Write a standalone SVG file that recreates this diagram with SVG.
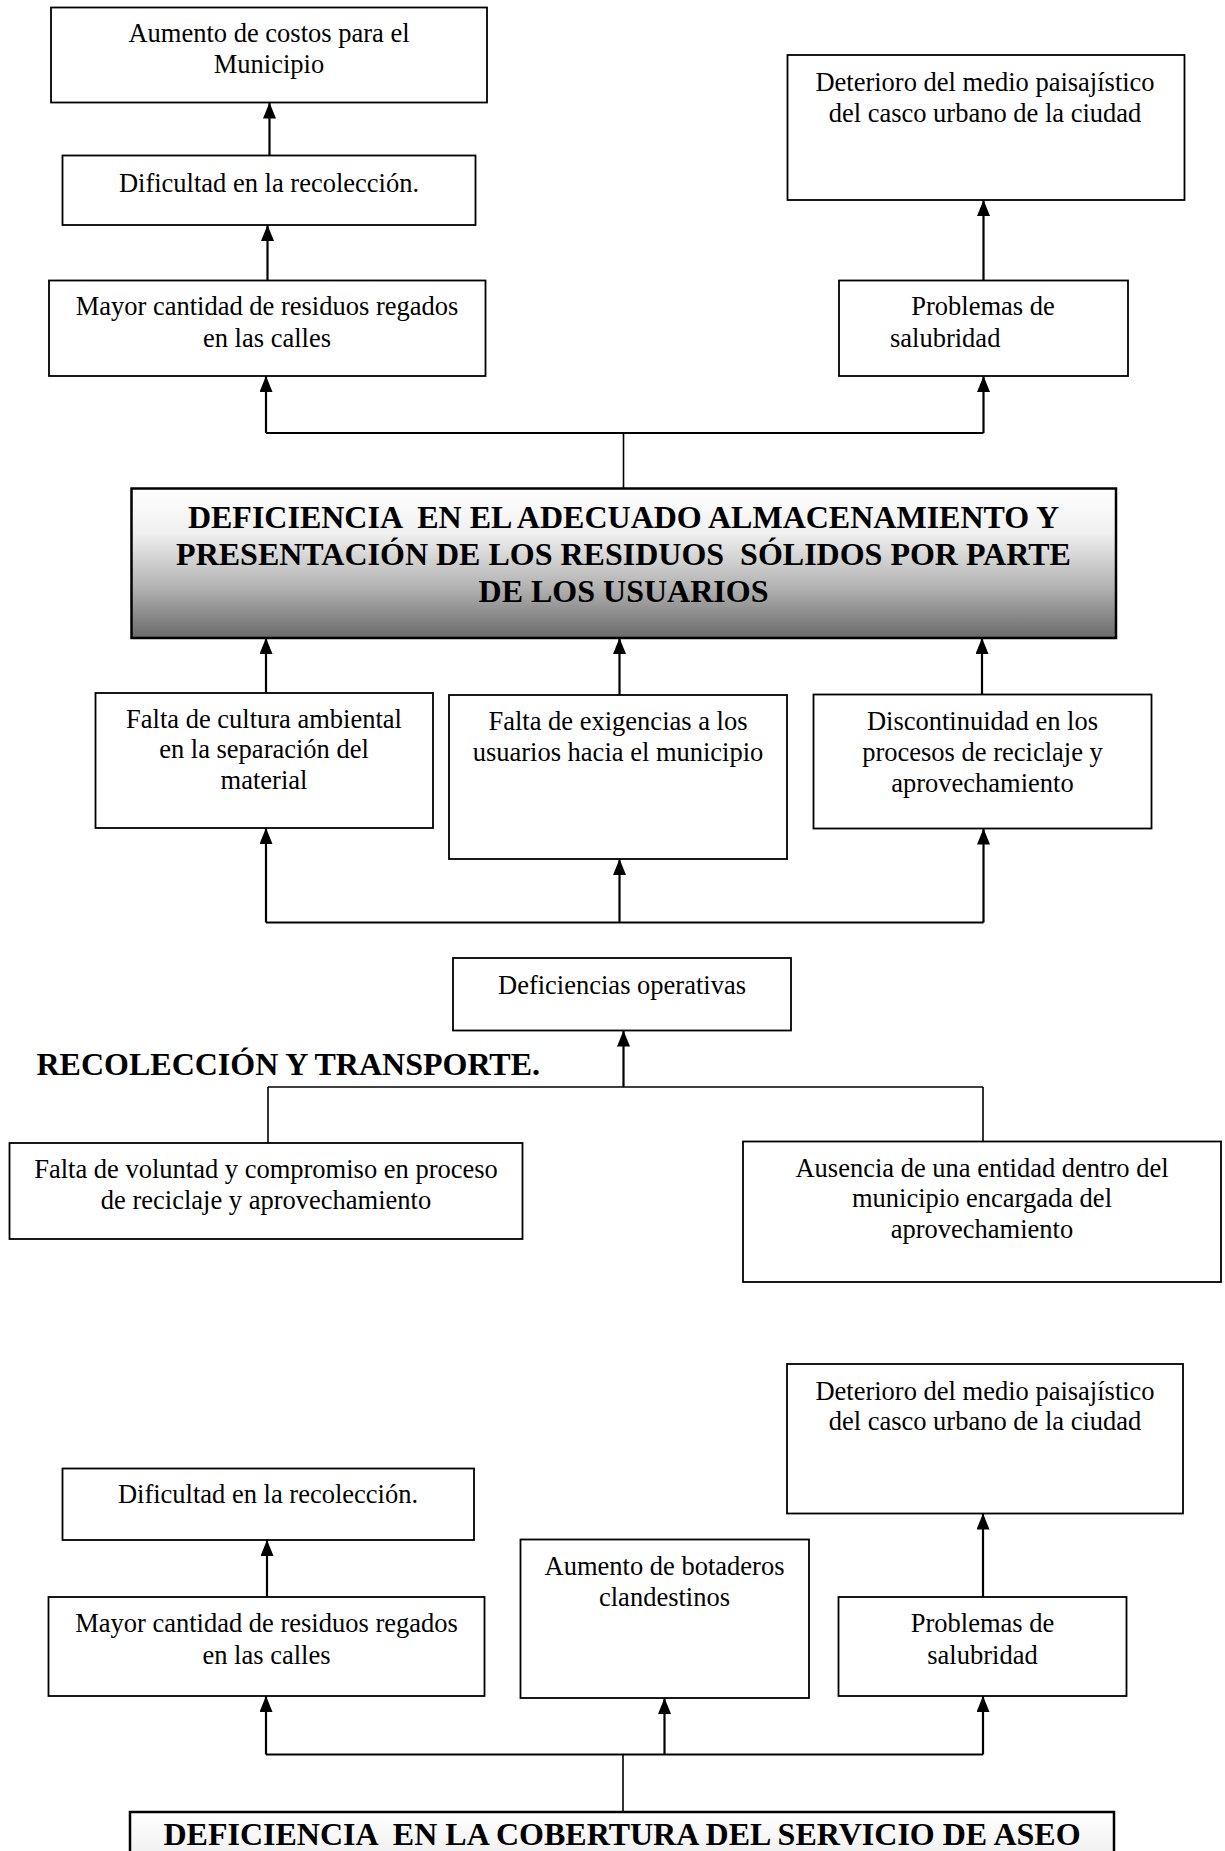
<svg xmlns="http://www.w3.org/2000/svg" width="1225" height="1851" viewBox="0 0 1225 1851">
<defs>
<style>
.box{fill:#fff;stroke:#000;stroke-width:1.8}
.big{stroke:#000;stroke-width:2.5}
.t{font-family:"Liberation Serif","Times New Roman",serif;font-size:26.5px;fill:#000}
.c{text-anchor:middle}
.b{font-family:"Liberation Serif","Times New Roman",serif;font-size:32px;font-weight:bold;fill:#000;white-space:pre}
.ln{fill:none;stroke:#000;stroke-width:2.2}
.thin{fill:none;stroke:#000;stroke-width:1.6}
.ar{fill:none;stroke:#000;stroke-width:2.2;marker-end:url(#ah)}
</style>
<marker id="ah" viewBox="0 0 16 13" refX="16" refY="6.5" markerWidth="16" markerHeight="13" markerUnits="userSpaceOnUse" orient="auto">
<path d="M0,0 L16,6.5 L0,13 z" fill="#000"/>
</marker>
<linearGradient id="g" x1="0" y1="0" x2="0" y2="1">
<stop offset="0" stop-color="#ffffff"/>
<stop offset="0.3" stop-color="#f0f0f0"/>
<stop offset="0.65" stop-color="#b4b4b4"/>
<stop offset="1" stop-color="#6a6a6a"/>
</linearGradient>
</defs>
<rect width="1225" height="1851" fill="#fff"/>

<g id="connectors">
<line class="ar" x1="269.5" y1="155.5" x2="269.5" y2="102.5"/>
<line class="ar" x1="267.5" y1="280.5" x2="267.5" y2="225"/>
<line class="thin" x1="623.5" y1="488.5" x2="623.5" y2="433"/>
<line class="ln" x1="266" y1="433" x2="983.5" y2="433"/>
<line class="ar" x1="266" y1="433" x2="266" y2="376"/>
<line class="ar" x1="983.5" y1="433" x2="983.5" y2="376"/>
<line class="ar" x1="983.5" y1="280.5" x2="983.5" y2="200"/>
<line class="ar" x1="266" y1="693" x2="266" y2="638"/>
<line class="ar" x1="619.5" y1="695" x2="619.5" y2="638"/>
<line class="ar" x1="982" y1="694.5" x2="982" y2="638"/>
<line class="ln" x1="266" y1="922.5" x2="983.5" y2="922.5"/>
<line class="ar" x1="266" y1="922.5" x2="266" y2="828"/>
<line class="ar" x1="619.5" y1="922.5" x2="619.5" y2="859"/>
<line class="ar" x1="983.5" y1="922.5" x2="983.5" y2="828.5"/>
<line class="ar" x1="623.5" y1="1087" x2="623.5" y2="1030.5"/>
<line class="thin" x1="268" y1="1087" x2="983" y2="1087"/>
<line class="thin" x1="268" y1="1087" x2="268" y2="1143"/>
<line class="thin" x1="983" y1="1087" x2="983" y2="1141.5"/>
<line class="ar" x1="267" y1="1597" x2="267" y2="1540"/>
<line class="ar" x1="983" y1="1597" x2="983" y2="1513.5"/>
<line class="ln" x1="266" y1="1754.5" x2="983" y2="1754.5"/>
<line class="ar" x1="266" y1="1754.5" x2="266" y2="1696"/>
<line class="ar" x1="664.5" y1="1754.5" x2="664.5" y2="1698"/>
<line class="ar" x1="983" y1="1754.5" x2="983" y2="1696"/>
<line class="thin" x1="623" y1="1754.5" x2="623" y2="1812"/>
</g>

<g id="n-aumento-costos">
<rect class="box" x="51" y="7.5" width="436" height="95"/>
<text class="t c" x="269" y="41.5">Aumento de costos para el</text>
<text class="t c" x="269" y="72.5">Municipio</text>
</g>
<g id="n-dificultad-1">
<rect class="box" x="62.5" y="155.5" width="413" height="69.5"/>
<text class="t c" x="269" y="191.5">Dificultad en la recolección.</text>
</g>
<g id="n-mayor-1">
<rect class="box" x="49" y="280.5" width="436.5" height="95.5"/>
<text class="t c" x="267" y="315">Mayor cantidad de residuos regados</text>
<text class="t c" x="267" y="346.5">en las calles</text>
</g>
<g id="n-deterioro-1">
<rect class="box" x="787.5" y="55" width="397" height="145"/>
<text class="t c" x="985" y="90.5">Deterioro del medio paisajístico</text>
<text class="t c" x="985" y="121.5">del casco urbano de la ciudad</text>
</g>
<g id="n-problemas-1">
<rect class="box" x="839" y="280.5" width="289" height="95.5"/>
<text class="t c" x="983" y="315">Problemas de</text>
<text class="t" x="890" y="346.5">salubridad</text>
</g>
<g id="n-deficiencia-almacenamiento">
<rect class="big" fill="url(#g)" x="131.5" y="488.5" width="984.5" height="149.5"/>
<text class="b c" x="623.5" y="528" xml:space="preserve">DEFICIENCIA  EN EL ADECUADO ALMACENAMIENTO Y</text>
<text class="b c" x="623.5" y="565" xml:space="preserve">PRESENTACIÓN DE LOS RESIDUOS  SÓLIDOS POR PARTE</text>
<text class="b c" x="623.5" y="602">DE LOS USUARIOS</text>
</g>
<g id="n-falta-cultura">
<rect class="box" x="95.5" y="693" width="337.5" height="135"/>
<text class="t c" x="264" y="727.5">Falta de cultura ambiental</text>
<text class="t c" x="264" y="758">en la separación del</text>
<text class="t c" x="264" y="789">material</text>
</g>
<g id="n-falta-exigencias">
<rect class="box" x="449" y="695" width="338" height="164"/>
<text class="t c" x="618" y="730">Falta de exigencias a los</text>
<text class="t c" x="618" y="761">usuarios hacia el municipio</text>
</g>
<g id="n-discontinuidad">
<rect class="box" x="813.5" y="694.5" width="338" height="134"/>
<text class="t c" x="982.5" y="730">Discontinuidad en los</text>
<text class="t c" x="982.5" y="761">procesos de reciclaje y</text>
<text class="t c" x="982.5" y="792">aprovechamiento</text>
</g>
<g id="n-deficiencias-operativas">
<rect class="box" x="453" y="958" width="338" height="72.5"/>
<text class="t c" x="622" y="993.5">Deficiencias operativas</text>
</g>
<g id="heading-recoleccion">
<text class="b" x="36.5" y="1075">RECOLECCIÓN Y TRANSPORTE.</text>
</g>
<g id="n-falta-voluntad">
<rect class="box" x="9.5" y="1143" width="513" height="96"/>
<text class="t c" x="266" y="1178">Falta de voluntad y compromiso en proceso</text>
<text class="t c" x="266" y="1208.5">de reciclaje y aprovechamiento</text>
</g>
<g id="n-ausencia-entidad">
<rect class="box" x="743" y="1141.5" width="478" height="140.5"/>
<text class="t c" x="982" y="1176.5">Ausencia de una entidad dentro del</text>
<text class="t c" x="982" y="1207">municipio encargada del</text>
<text class="t c" x="982" y="1237.5">aprovechamiento</text>
</g>
<g id="n-deterioro-2">
<rect class="box" x="787" y="1364" width="396" height="149.5"/>
<text class="t c" x="985" y="1399.5">Deterioro del medio paisajístico</text>
<text class="t c" x="985" y="1430">del casco urbano de la ciudad</text>
</g>
<g id="n-dificultad-2">
<rect class="box" x="62.5" y="1468.5" width="411.5" height="71.5"/>
<text class="t c" x="268" y="1503">Dificultad en la recolección.</text>
</g>
<g id="n-mayor-2">
<rect class="box" x="48.5" y="1597" width="436" height="99"/>
<text class="t c" x="266.5" y="1632">Mayor cantidad de residuos regados</text>
<text class="t c" x="266.5" y="1664">en las calles</text>
</g>
<g id="n-botaderos">
<rect class="box" x="520.5" y="1539.5" width="288.5" height="158.5"/>
<text class="t c" x="664.5" y="1575">Aumento de botaderos</text>
<text class="t c" x="664.5" y="1606">clandestinos</text>
</g>
<g id="n-problemas-2">
<rect class="box" x="838.5" y="1597" width="288" height="99"/>
<text class="t c" x="982.5" y="1632">Problemas de</text>
<text class="t c" x="982.5" y="1664">salubridad</text>
</g>
<g id="n-deficiencia-cobertura">
<rect class="big" fill="url(#g)" x="130" y="1812" width="984" height="150"/>
<text class="b c" x="622" y="1845" xml:space="preserve">DEFICIENCIA  EN LA COBERTURA DEL SERVICIO DE ASEO</text>
</g>
</svg>
